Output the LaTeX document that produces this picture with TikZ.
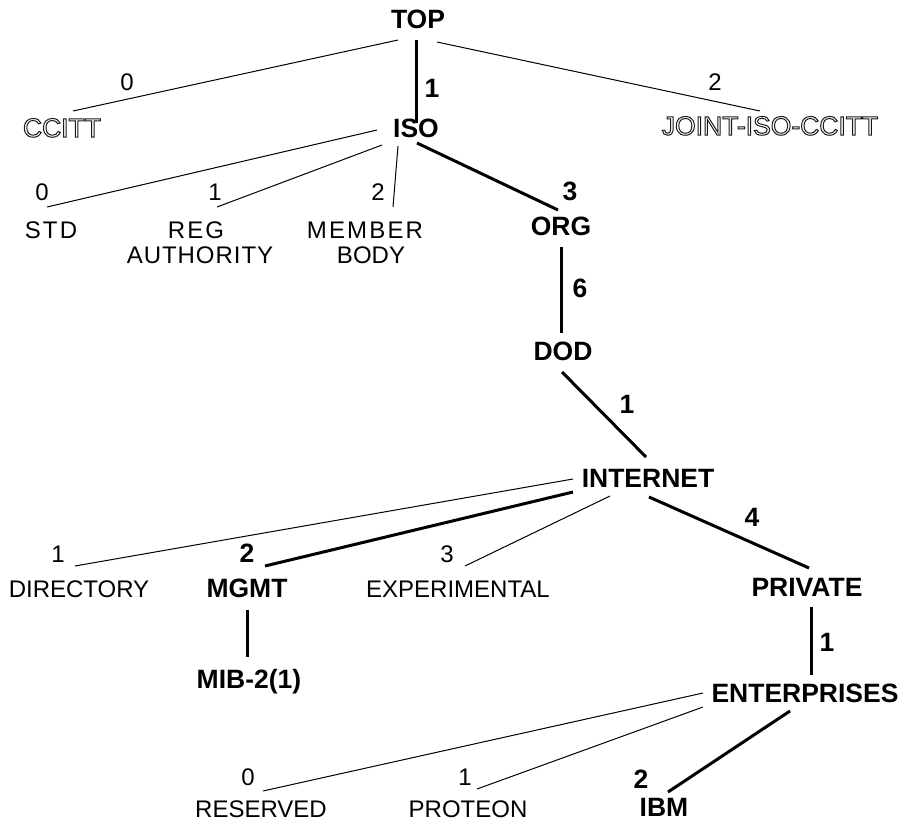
\documentclass[tikz,border=0pt]{standalone}
\usepackage{fontspec}
\setmainfont{Liberation Sans}
\newfontfamily\widefont[LetterSpace=9]{Liberation Sans}
\newfontfamily\semiwidefont[LetterSpace=4]{Liberation Sans}
\newcommand\outlinetext[1]{\special{pdf:literal direct 1 Tr 1 w 0.1 G}#1\special{pdf:literal direct 0 Tr 0 G}}
\tikzset{
  txt/.style={anchor=base, inner sep=0pt, font=\fontsize{24}{27}\selectfont},
  otxt/.style={anchor=base, inner sep=0pt, font=\fontsize{26.5}{29}\selectfont},
  btxt/.style={anchor=base, inner sep=0pt, font=\fontsize{26.5}{29}\selectfont\bfseries},
  wtxt/.style={anchor=base, inner sep=0pt, font=\fontsize{24}{27}\selectfont\widefont},
  swtxt/.style={anchor=base, inner sep=0pt, font=\fontsize{24}{27}\selectfont\semiwidefont},
  thinedge/.style={line width=1pt},
  thickedge/.style={line width=3pt},
}
\begin{document}
\begin{tikzpicture}[x=1pt,y=-1pt]
\useasboundingbox (0,0) rectangle (902,822);
% nodes
\node[btxt] (top) at (418,28) {TOP};
\node[btxt] (iso) at (416,137) {ISO};
\node[otxt] (ccitt) at (62,137) {\outlinetext{CCITT}};
\node[otxt] (joint) at (770,135) {\outlinetext{JOINT-ISO-CCITT}};
\node[wtxt] (std) at (51,238) {STD};
\node[wtxt] (reg) at (196,238) {REG};
\node[swtxt] (regb) at (200,263) {AUTHORITY};
\node[wtxt] (member) at (365,238) {MEMBER};
\node[txt] (memberb) at (371,263) {BODY};
\node[btxt] (org) at (561,235) {ORG};
\node[btxt] (dod) at (563,360) {DOD};
\node[btxt] (internet) at (648,487) {INTERNET};
\node[txt] (directory) at (79,597) {DIRECTORY};
\node[btxt] (mgmt) at (247,597) {MGMT};
\node[txt] (experimental) at (458,597) {EXPERIMENTAL};
\node[btxt] (private) at (807,596) {PRIVATE};
\node[btxt] (mib) at (249,688) {MIB-2(1)};
\node[btxt] (enterprises) at (805,702) {ENTERPRISES};
\node[txt] (reserved) at (261,817) {RESERVED};
\node[txt] (proteon) at (468,817) {PROTEON};
\node[btxt] (ibm) at (664,816) {IBM};
% numbers
\node[txt] (n-ccitt) at (127,90) {0};
\node[btxt] (n-iso) at (432,97) {1};
\node[txt] (n-joint) at (715,90) {2};
\node[txt] (n-std) at (42,200) {0};
\node[txt] (n-reg) at (215,200) {1};
\node[txt] (n-member) at (378,200) {2};
\node[btxt] (n-org) at (570,200) {3};
\node[btxt] (n-dod) at (580,297) {6};
\node[btxt] (n-internet) at (627,413) {1};
\node[txt] (n-directory) at (58,562) {1};
\node[btxt] (n-mgmt) at (247,562) {2};
\node[txt] (n-experimental) at (447,562) {3};
\node[btxt] (n-private) at (752,526) {4};
\node[btxt] (n-enterprises) at (827,651) {1};
\node[txt] (n-reserved) at (248,785) {0};
\node[txt] (n-proteon) at (465,785) {1};
\node[btxt] (n-ibm) at (641,788) {2};
% connectors
\draw[thinedge] ([shift={(-20,12)}]top.base) -- ([shift={(11,-26)}]ccitt.base);
\draw[thickedge] ([shift={(-2,12)}]top.base) -- ([shift={(0,-14)}]iso.base);
\draw[thinedge] ([shift={(19,14)}]top.base) -- ([shift={(-10,-24)}]joint.base);
\draw[thinedge] ([shift={(-39,-7)}]iso.base) -- ([shift={(-4,-31)}]std.base);
\draw[thinedge] ([shift={(-34,8)}]iso.base) -- ([shift={(21,-31)}]reg.base);
\draw[thinedge] ([shift={(-18,9)}]iso.base) -- ([shift={(28,-31)}]member.base);
\draw[thickedge] ([shift={(1,6)}]iso.base) -- ([shift={(-3,-25)}]org.base);
\draw[thickedge] ([shift={(0,12)}]org.base) -- ([shift={(-2,-27)}]dod.base);
\draw[thickedge] ([shift={(-1,12)}]dod.base) -- ([shift={(-2,-30)}]internet.base);
\draw[thinedge] ([shift={(-75,-8)}]internet.base) -- ([shift={(-4,-31)}]directory.base);
\draw[thickedge] ([shift={(-75,5)}]internet.base) -- ([shift={(18,-31)}]mgmt.base);
\draw[thinedge] ([shift={(-38,9)}]internet.base) -- ([shift={(7,-31)}]experimental.base);
\draw[thickedge] ([shift={(1,10)}]internet.base) -- ([shift={(2,-28)}]private.base);
\draw[thickedge] ([shift={(0,13)}]mgmt.base) -- ([shift={(-2,-31)}]mib.base);
\draw[thickedge] ([shift={(4,11)}]private.base) -- ([shift={(6,-27)}]enterprises.base);
\draw[thinedge] ([shift={(-102,-9)}]enterprises.base) -- ([shift={(2,-26)}]reserved.base);
\draw[thinedge] ([shift={(-102,5)}]enterprises.base) -- ([shift={(9,-28)}]proteon.base);
\draw[thickedge] ([shift={(-15,9)}]enterprises.base) -- ([shift={(4,-24)}]ibm.base);
\end{tikzpicture}
\end{document}
